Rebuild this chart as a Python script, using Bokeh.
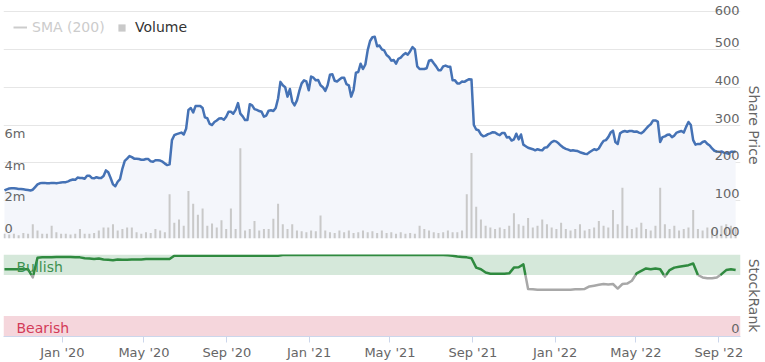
import numpy as np
import pandas as pd
from bokeh.plotting import figure
from bokeh.layouts import column
from bokeh.models import (Range1d, Grid, FixedTicker, MonthsTicker, Title,
                          DatetimeTickFormatter, BoxAnnotation, Legend, LegendItem)
from bokeh.core.properties import value
from bokeh.embed import file_html
from bokeh.resources import INLINE

# ---------------- data ----------------
first_week = "2019-10-07"          # Monday of the first reading
view_start = "2019-10-05 13:00"
view_end = "2022-10-03 05:00"

# share price read on Mondays
price_mon = [127, 132, 133, 131, 130, 128, 129, 143, 147, 146,
             147, 146, 148, 149, 154, 155, 160, 158, 166, 159,
             160, 165, 175, 143, 150, 185, 211, 215, 211, 208,
             210, 204, 207, 206, 198, 196, 273, 278, 275, 340,
             333, 350, 345, 318, 300, 312, 318, 322, 335, 340,
             330, 313, 355, 342, 337, 322, 338, 337, 370, 405,
             375, 362, 365, 410, 415, 428, 418, 405, 390, 433,
             417, 420, 425, 405, 392, 440, 448, 498, 532, 508,
             500, 485, 470, 462, 478, 490, 495, 500, 448, 448,
             470, 463, 445, 455, 454, 418, 410, 415, 418, 420,
             288, 275, 272, 278, 280, 273, 279, 268, 262, 262,
             248, 240, 236, 236, 233, 241, 255, 256, 245, 237,
             232, 232, 228, 224, 228, 236, 238, 258, 268, 285,
             250, 282, 282, 284, 283, 278, 290, 302, 312, 255,
             270, 275, 272, 282, 280, 308, 260, 250, 255, 250,
             238, 230, 230, 226, 229, 230]

# share price read mid-week (Thursday noon)
price_mid = [130, 133, 132, 131, 129, 127, 136, 146, 147, 146,
             147, 147, 149, 151, 156, 161, 160, 166, 160, 162,
             160, 180, 160, 138, 157, 205, 218, 211, 210, 208,
             210, 203, 207, 203, 194, 260, 276, 280, 290, 345,
             350, 350, 320, 303, 308, 317, 314, 335, 330, 358,
             323, 313, 352, 340, 335, 325, 339, 345, 414, 400,
             395, 352, 390, 418, 392, 425, 419, 400, 405, 434,
             415, 425, 408, 375, 438, 462, 460, 522, 533, 510,
             497, 480, 472, 475, 485, 486, 506, 455, 448, 450,
             472, 455, 445, 457, 454, 418, 410, 414, 421, 300,
             286, 270, 276, 281, 276, 279, 267, 259, 277, 275,
             244, 238, 233, 234, 240, 248, 258, 251, 240, 235,
             233, 231, 226, 223, 232, 234, 249, 260, 280, 255,
             278, 284, 284, 282, 280, 283, 297, 312, 309, 268,
             274, 268, 280, 284, 295, 300, 248, 250, 257, 246,
             232, 229, 227, 224, 229]

# weekly volume, millions
volume_m = [0.3, 0.25, 0.3, 0.2, 0.35, 0.3, 0.9, 0.5, 0.3, 0.3,
            0.8, 0.4, 0.3, 0.3, 0.25, 0.3, 0.6, 0.3, 0.3, 0.35,
            0.5, 0.7, 0.7, 0.9, 0.5, 0.6, 0.7, 0.7, 0.4, 0.3,
            0.4, 0.35, 0.6, 0.5, 0.4, 2.8, 1.0, 1.2, 0.8, 3.0,
            2.2, 1.5, 1.9, 0.8, 0.95, 0.7, 1.15, 0.6, 1.9, 0.6,
            5.7, 0.5, 0.6, 1.1, 0.5, 0.6, 0.6, 1.25, 2.2, 0.9,
            0.6, 0.9, 0.5, 0.45, 0.4, 0.5, 0.45, 1.45, 0.5, 0.4,
            0.35, 0.5, 0.4, 0.5, 0.35, 0.4, 0.5, 0.4, 0.45, 0.35,
            0.5, 0.35, 0.4, 0.3, 0.4, 0.3, 0.35, 0.3, 0.8, 0.6,
            0.5, 0.4, 0.35, 0.4, 0.5, 0.4, 0.4, 0.5, 2.8, 5.4,
            2.0, 1.2, 0.8, 0.7, 0.6, 0.7, 0.6, 0.8, 1.6, 0.9,
            0.8, 1.3, 0.7, 0.8, 1.2, 0.9, 0.7, 0.6, 1.0, 0.6,
            0.5, 0.6, 0.9, 0.5, 0.6, 0.7, 1.1, 0.8, 0.7, 1.8,
            0.9, 3.2, 0.8, 0.6, 0.7, 1.0, 0.6, 0.5, 0.8, 3.2,
            0.9, 0.6, 0.8, 0.5, 0.6, 0.7, 1.8, 0.6, 0.5, 0.7,
            0.6, 0.5, 0.8, 0.9, 0.8, 0.7]

# weekly StockRank (0-100)
stock_rank = [82, 82, 82, 82, 82, 82, 72,
              96, 96.5, 96.5, 96.5, 97, 97, 97, 97, 96.5, 96.5, 95.5,
              95, 94.5, 95, 94,
              93.5, 93, 94, 93.5, 93.5, 94, 94, 94, 94.5, 94.5, 94.5, 94.5, 94.5, 94.5,
              98.5, 98.5, 98.5, 98.5, 98.5, 98.5, 98.5, 98.5, 98.5, 98.5, 98.5, 98.5,
              98.5, 98.5, 98.5, 98.5, 98.5, 98.5, 98.5, 98.5, 98.5, 98.5, 98.5,
              99.4, 99.4, 99.4, 99.4, 99.4, 99.4, 99.4, 99.4, 99.4, 99.4, 99.4, 99.4,
              99.4, 99.4, 99.4, 99.4, 99.4, 99.4, 99.4, 99.4, 99.4, 99.4, 99.4, 99.4,
              99.4, 99.4, 99.4, 99.4, 99.4, 99.4, 99.4, 99.4, 99.4, 99.4, 99.4,
              99, 98.5, 97.5, 97, 96.5, 95.5,
              84, 82, 78, 76.5, 76.5, 76.5, 76.5, 77, 84, 84.5, 88,
              58, 57.5, 57, 57, 57, 57, 57, 57, 57, 57, 57.5, 57.5, 58,
              61, 62, 63, 64, 63.5, 64, 58.5, 64, 64.5, 68,
              77, 80, 83, 82, 83, 82, 73, 81, 84, 85, 86, 87,
              89, 75, 72, 71, 71, 72, 76, 81, 82, 81]

price_ticks = [0, 100, 200, 300, 400, 500, 600]
price_tick_labels = ["0.00", "100", "200", "300", "400", "500", "600"]
volume_ticks_m = [0, 2, 4, 6]
volume_tick_labels = ["0", "2m", "4m", "6m"]
rank_ticks = [0]
rank_tick_labels = ["0"]
bullish_band = [75, 100]
bearish_band = [0, 25]
rank_zone_threshold = 75
series_names = ["SMA (200)", "Volume"]
axis_titles = ["Share Price", "StockRank"]
band_names = ["Bullish", "Bearish"]

# ---------------- styles ----------------
FONT = "DejaVu Sans"
LABEL_GRAY = "#666666"
GRID = "#e6e6e6"
PRICE_BLUE = "#4572b5"
RANK_GREEN = "#2f8a3f"
RANK_GRAY = "#a8a8a8"

dates = pd.date_range(first_week, periods=len(price_mon), freq="7D")
dates_mid = dates[:len(price_mid)] + pd.Timedelta(hours=84)
all_dates = np.concatenate([dates.values, dates_mid.values])
all_price = np.concatenate([price_mon, price_mid]).astype(float)
order = np.argsort(all_dates)
price_dates = pd.to_datetime(all_dates[order])
price = all_price[order]

# the SMA (200) series is switched off in the reference: no visible values
sma_hidden = np.full(len(dates), np.nan)

x_start = pd.Timestamp(view_start)
x_end = pd.Timestamp(view_end)
xr = Range1d(x_start, x_end)

# price pane: 600 sits 11px below the top of the plotting area (227px per 600)
price_top = price_ticks[-1] * 238.0 / 227.0

# ---------------- price / volume pane ----------------
p1 = figure(width=765, height=245, x_range=xr, y_range=Range1d(0, price_top),
            x_axis_type="datetime", x_axis_location=None, y_axis_location=None,
            output_backend="svg", toolbar_location=None,
            min_border_left=3, min_border_right=25, min_border_top=0, min_border_bottom=7,
            outline_line_color=None)
p1.grid.visible = False
p1.add_layout(Grid(dimension=1, ticker=FixedTicker(ticks=price_ticks),
                   grid_line_color=GRID, grid_line_width=1))
p1.extra_y_ranges = {"vol": Range1d(0, 15.03)}

p1.varea(x=price_dates, y1=0, y2=price, fill_color="#f4f6fb")
vol_r = p1.vbar(x=dates, top=volume_m, width=3 * 86400000, y_range_name="vol",
                fill_color="#c9c9c9", line_color=None)
p1.line(price_dates, price, line_color=PRICE_BLUE, line_width=2.5, line_join="round")
sma_r = p1.line(x=dates, y=sma_hidden, line_color="#cccccc", line_width=2)

price_offsets = [-7 if v < price_ticks[-1] else -1 for v in price_ticks]
p1.text(x=[x_end] * len(price_ticks), y=price_ticks, text=price_tick_labels,
        text_align="right", text_baseline="alphabetic", x_offset=-1, y_offset=price_offsets,
        text_font=value(FONT), text_font_size="13px", text_color=LABEL_GRAY)
p1.text(x=[x_start] * len(volume_ticks_m), y=volume_ticks_m, text=volume_tick_labels,
        y_range_name="vol", text_align="left", text_baseline="alphabetic",
        x_offset=1, y_offset=-10,
        text_font=value(FONT), text_font_size="13px", text_color=LABEL_GRAY)

p1.add_layout(Title(text=axis_titles[0], align="left", offset=85, vertical_align="top",
                    standoff=6, text_font=FONT, text_font_size="14px",
                    text_font_style="normal", text_color=LABEL_GRAY), "right")

leg_sma = Legend(items=[LegendItem(label=series_names[0], renderers=[sma_r])],
                 location=(10, 203), orientation="horizontal",
                 glyph_width=14, glyph_height=14, label_height=14, label_standoff=5,
                 label_text_font=FONT, label_text_font_size="14px", label_text_color="#cccccc",
                 padding=0, margin=0, spacing=0, border_line_color=None,
                 background_fill_alpha=0)
leg_vol = Legend(items=[LegendItem(label=series_names[1], renderers=[vol_r])],
                 location=(114, 203), orientation="horizontal",
                 glyph_width=9, glyph_height=9, label_height=14, label_standoff=9,
                 label_text_font=FONT, label_text_font_size="14px", label_text_color="#333333",
                 padding=0, margin=0, spacing=0, border_line_color=None,
                 background_fill_alpha=0)
p1.add_layout(leg_sma, "center")
p1.add_layout(leg_vol, "center")

# ---------------- StockRank pane ----------------
p2 = figure(width=765, height=117, x_range=xr, y_range=Range1d(0, 100),
            x_axis_type="datetime", x_axis_location="below", y_axis_location=None,
            output_backend="svg", toolbar_location=None,
            min_border_left=3, min_border_right=25, min_border_top=9, min_border_bottom=26,
            outline_line_color=None)
p2.grid.visible = False
p2.add_layout(Grid(dimension=1, ticker=FixedTicker(ticks=[100]),
                   grid_line_color=GRID, grid_line_width=1))

p2.add_layout(BoxAnnotation(bottom=bullish_band[0], top=bullish_band[1],
                            fill_color="#d5e8da", fill_alpha=1, line_color=None, level="underlay"))
p2.add_layout(BoxAnnotation(bottom=bearish_band[0], top=bearish_band[1],
                            fill_color="#f5d6dc", fill_alpha=1, line_color=None, level="underlay"))

# split the StockRank line into zones (green above threshold, grey below)
t = dates.values.astype("datetime64[ms]").astype(np.int64).astype(float)
thr = rank_zone_threshold
runs = {True: ([], []), False: ([], [])}
cur_x, cur_y = [t[0]], [stock_rank[0]]
state = stock_rank[0] >= thr
for i in range(1, len(stock_rank)):
    y_prev, y_now = stock_rank[i - 1], stock_rank[i]
    s = y_now >= thr
    if s != state:
        f = (thr - y_prev) / (y_now - y_prev)
        xm = t[i - 1] + f * (t[i] - t[i - 1])
        cur_x.append(xm); cur_y.append(thr)
        runs[state][0].append(cur_x); runs[state][1].append(cur_y)
        cur_x, cur_y = [xm], [thr]
        state = s
    cur_x.append(t[i]); cur_y.append(y_now)
runs[state][0].append(cur_x); runs[state][1].append(cur_y)

p2.multi_line(xs=runs[False][0], ys=runs[False][1], line_color=RANK_GRAY, line_width=2.5,
              line_join="round")
p2.multi_line(xs=runs[True][0], ys=runs[True][1], line_color=RANK_GREEN, line_width=2.5,
              line_join="round")

p2.text(x=[x_start, x_start],
        y=[(bullish_band[0] + bullish_band[1]) / 2, (bearish_band[0] + bearish_band[1]) / 2],
        text=band_names, text_color=["#3d9150", "#d33b58"],
        text_align="left", text_baseline="middle", x_offset=13, y_offset=2,
        text_font=value(FONT), text_font_size="14px")
p2.text(x=[x_end] * len(rank_ticks), y=rank_ticks, text=rank_tick_labels,
        text_align="right", text_baseline="alphabetic", x_offset=-1, y_offset=-8,
        text_font=value(FONT), text_font_size="13px", text_color=LABEL_GRAY)

p2.add_layout(Title(text=axis_titles[1], align="center", vertical_align="top",
                    standoff=6, text_font=FONT, text_font_size="14px",
                    text_font_style="normal", text_color=LABEL_GRAY), "right")

xax = p2.xaxis[0]
xax.ticker = MonthsTicker(months=[0, 4, 8])
xax.formatter = DatetimeTickFormatter(months="%b '%y", days="%b '%y", years="%b '%y")
xax.axis_line_color = "#ccd6eb"
xax.major_tick_line_color = "#ccd6eb"
xax.major_tick_out = 6
xax.major_tick_in = 0
xax.minor_tick_line_color = None
xax.major_label_standoff = 2
xax.major_label_text_font = FONT
xax.major_label_text_font_size = "13px"
xax.major_label_text_color = LABEL_GRAY

layout = column(p1, p2, spacing=0)
open("out.html", "w").write(file_html(layout, INLINE))
